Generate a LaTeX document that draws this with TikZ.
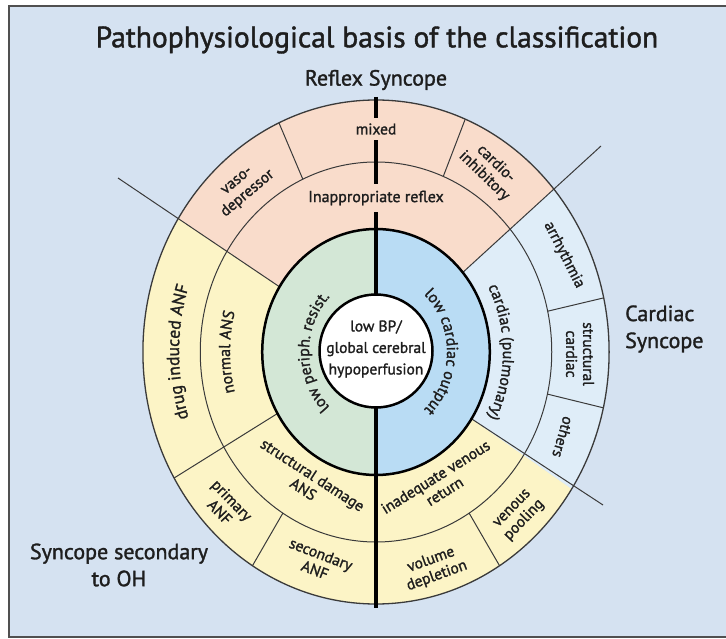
\documentclass[tikz,border=0pt]{standalone}
\usepackage{fontspec}
\setmainfont{PT Sans}[FakeBold=1.4]
\usetikzlibrary{decorations.text}
\definecolor{bgblue}{HTML}{D5E2F1}
\definecolor{framec}{HTML}{505050}
\definecolor{pinkc}{HTML}{F9DCCB}
\definecolor{yellowc}{HTML}{FCF4C6}
\definecolor{cardblue}{HTML}{DFEDF8}
\definecolor{greenc}{HTML}{D3E7D6}
\definecolor{bluec}{HTML}{B9DCF4}
\definecolor{lineg}{HTML}{3A3A3A}
\definecolor{txt}{HTML}{1E1E1E}
\newcommand{\cfA}{\fontsize{16}{18}\selectfont}
\newcommand{\cfB}{\fontsize{17.5}{19}\selectfont}
\tikzset{
  thinline/.style={draw=lineg, line width=1pt},
  lbl/.style={text=txt, font=\fontsize{15.5}{17}\selectfont, align=center, inner sep=0pt},
  biglbl/.style={text=txt, font=\fontsize{22}{27}\selectfont, inner sep=0pt},
  curved/.style={decorate, decoration={text along path, text align=center, text color=txt, text={#1}}}
}
\begin{document}
\begin{tikzpicture}[x=1pt,y=1pt]
\useasboundingbox (0,0) rectangle (726,-639);
\fill[white] (0,0) rectangle (726,-639);
\draw[fill=bgblue, draw=framec, line width=1.5pt] (9,-6) rectangle (732,-637);

\begin{scope}[shift={(376,-352)}, xscale=0.925]
  \fill[pinkc] (0,0) -- (40.3:252) arc[start angle=40.3, end angle=148, radius=252] -- cycle;
  \fill[yellowc] (0,0) -- (148:252) arc[start angle=148, end angle=327.1, radius=252] -- cycle;
  \fill[cardblue] (0,0) -- (-32.9:252) arc[start angle=-32.9, end angle=40.3, radius=252] -- cycle;
  \fill[greenc] (90:123) arc[start angle=90, end angle=270, radius=123] -- cycle;
  \fill[bluec] (-90:123) arc[start angle=-90, end angle=90, radius=123] -- cycle;
  \draw[draw=lineg, line width=1.3pt] (0,0) circle[radius=252];
  \draw[thinline] (0,0) circle[radius=190];
  % sector boundaries
  \draw[thinline] (210:123) -- (210:252);
  \draw[thinline] (238:190) -- (238:252);
  \draw[thinline] (302:190) -- (302:252);
  \draw[thinline] (114.6:190) -- (114.6:252);
  \draw[thinline] (67.5:190) -- (67.5:252);
  \draw[thinline] (12.4:190) -- (12.4:252);
  \draw[thinline] (-12.8:190) -- (-12.8:252);
  \coordinate (ulS) at (148:123);
  \coordinate (urS) at (40.3:123);
  \coordinate (lrS) at (-32.9:123);
\end{scope}
\coordinate (ulE) at (118,-178);
\coordinate (urE) at (601,-146);
\coordinate (lrE) at (603,-505);
\draw[thinline] (ulS) -- (ulE);
\draw[thinline] (urS) -- (urE);
\draw[thinline] (lrS) -- (lrE);

% vertical divider
\coordinate (vTop) at (376,-97);
\coordinate (vBot) at (376,-608);
\draw[black, line width=4pt] (vTop) -- (vBot);

\begin{scope}[shift={(376,-352)}, xscale=0.925]
  \draw[black, line width=2.5pt] (0,0) circle[radius=123];
\end{scope}

% centre
\node[circle, draw=black, line width=2.5pt, fill=white, minimum size=113pt, inner sep=0pt] (core) at (376,-351) {};
\node[lbl, font=\fontsize{15.5}{21.5}\selectfont] (coretxt) at (376,-349) {low BP/\\global cerebral\\hypoperfusion};

% curved labels
\path[curved={|\cfA|low periph. resist.}] plot[domain=0:110, samples=60] ({376+67*cos(235-\x)}, {-352+76*sin(235-\x)});
\path[curved={|\cfA|low cardiac output}] plot[domain=0:110, samples=60] ({376+71*cos(55-\x)}, {-352+78*sin(55-\x)});
\path[curved={|\cfA|normal ANS}] plot[domain=0:100, samples=60] ({376+146*cos(230-\x)}, {-352+158*sin(230-\x)});
\path[curved={|\cfB|drug induced ANF}] plot[domain=0:100, samples=60] ({376+197*cos(230-\x)}, {-352+213*sin(230-\x)});
\path[curved={|\cfA|cardiac (pulmonary)}] plot[domain=0:110, samples=60] ({376+127*cos(55-\x)}, {-352+138*sin(55-\x)});

% straight labels
\node[lbl, fill=pinkc, inner xsep=3pt, inner ysep=5pt] (mixed) at (376,-129) {mixed};
\node[lbl, fill=pinkc, inner xsep=3pt, inner ysep=7pt, font=\fontsize{16}{17}\selectfont] (inapp) at (376,-198) {Inappropriate reflex};
\node[lbl, rotate=40] (vaso) at (243,-188) {vaso-\\depressor};
\node[lbl, rotate=-44] (cardio) at (490,-170) {cardio-\\inhibitory};
\node[lbl, rotate=-63] (arr) at (564,-255) {arrhythmia};
\node[lbl, rotate=-90] (strc) at (580,-354) {structural\\cardiac};
\node[lbl, rotate=-106] (oth) at (563,-437) {others};
\node[lbl, rotate=-33] (sdam) at (308,-482) {structural damage\\ANS};
\node[lbl, rotate=32] (inad) at (440,-484) {inadequate venous\\return};
\node[lbl, rotate=-46] (prim) at (226,-506) {primary\\ANF};
\node[lbl, rotate=-21] (sec) at (318,-562) {secondary\\ANF};
\node[lbl, rotate=20] (vol) at (434,-568) {volume\\depletion};
\node[lbl, rotate=46] (ven) at (519,-515) {venous\\pooling};

% outer titles
\node[text=txt, font=\fontsize{29.5}{32}\selectfont, inner sep=0pt] (title) at (377,-40) {Pathophysiological basis of the classification};
\node[text=txt, font=\fontsize{22}{24}\selectfont, inner sep=0pt] (reflex) at (376,-80) {Reflex Syncope};
\node[biglbl, align=left, anchor=west] (cardsyn) at (625,-329) {Cardiac\\Syncope};
\node[biglbl, align=center] (ohsyn) at (119,-565) {Syncope secondary\\to OH};
\end{tikzpicture}
\end{document}
